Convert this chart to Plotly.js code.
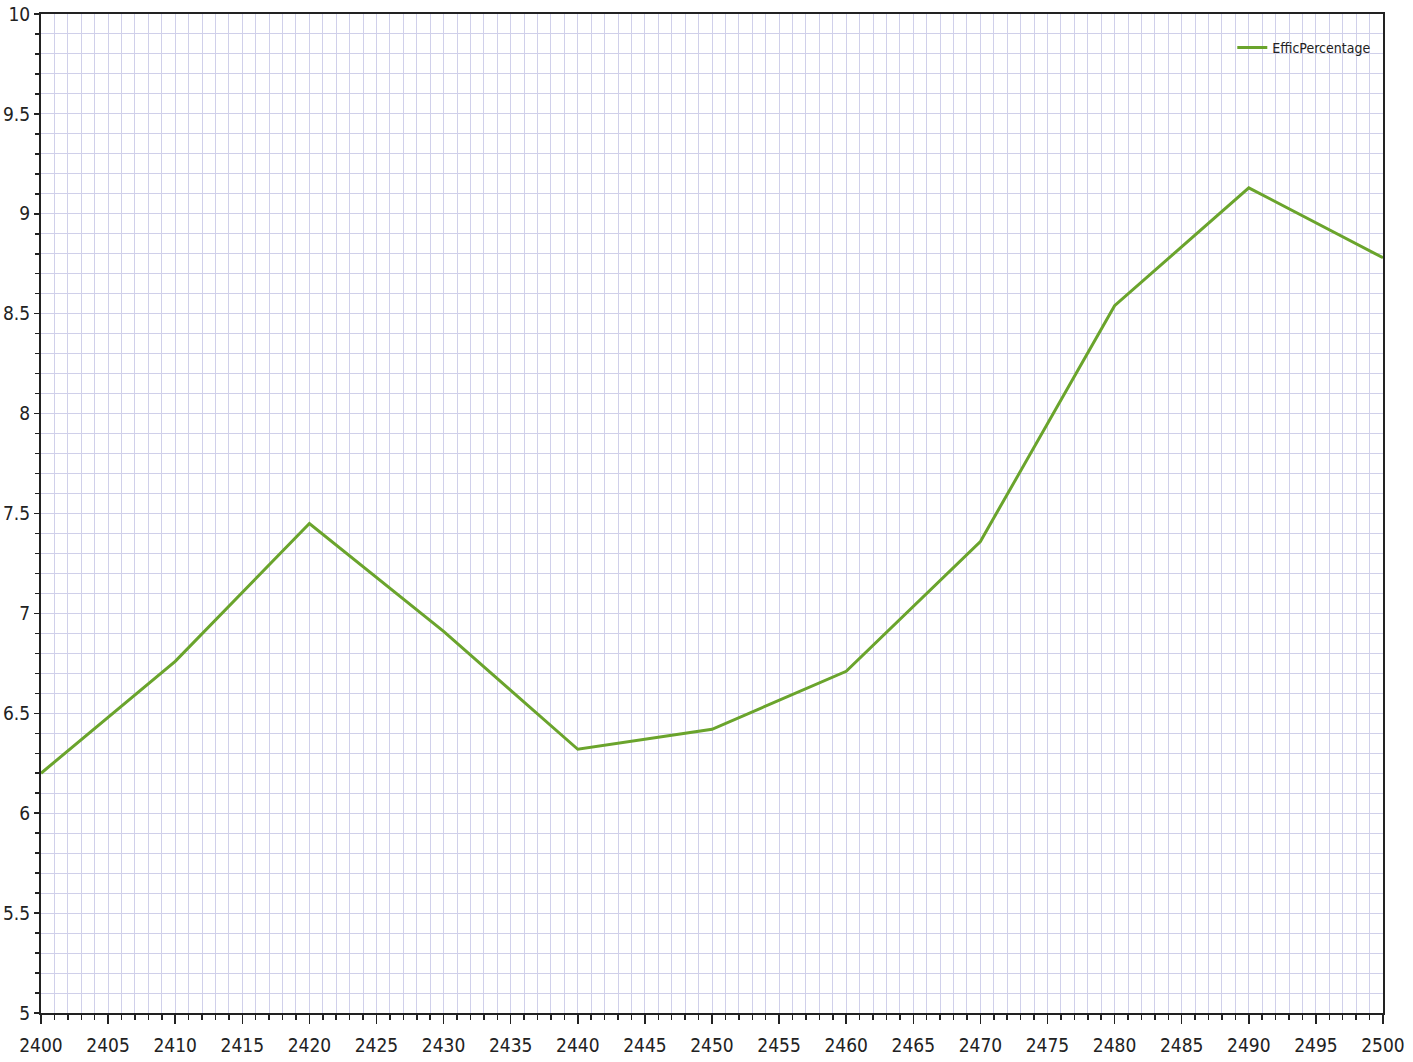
<!DOCTYPE html>
<html>
<head>
<meta charset="utf-8">
<script src="https://cdn.plot.ly/plotly-3.0.1.min.js"></script>
<style>html,body{margin:0;padding:0;background:#fff;}#chart{width:1413px;height:1062px;}</style>
</head>
<body>
<div id="chart"></div>
<script>
var xValues = [2400, 2410, 2420, 2430, 2440, 2450, 2460, 2470, 2480, 2490, 2500];
var efficPercentage = [6.20, 6.76, 7.45, 6.91, 6.32, 6.42, 6.71, 7.36, 8.54, 9.13, 8.78];
var seriesName = 'EfficPercentage';

var fontFam = '"DejaVu Sans Condensed", "Liberation Sans Narrow", sans-serif';
var gridColor = 'rgb(208,208,234)';

var trace = {
  x: xValues,
  y: efficPercentage,
  type: 'scatter',
  mode: 'lines',
  name: seriesName,
  line: {color: 'rgb(106,164,44)', width: 3}
};

var layout = {
  width: 1413,
  height: 1062,
  margin: {l: 41, r: 30, t: 14, b: 49},
  paper_bgcolor: '#fff',
  plot_bgcolor: '#fff',
  showlegend: true,
  legend: {
    x: 0.995, y: 0.982, xanchor: 'right', yanchor: 'top',
    bgcolor: 'rgba(0,0,0,0)',
    font: {family: fontFam, size: 14, color: '#222'},
    itemwidth: 30
  },
  xaxis: {
    range: [2400, 2500],
    dtick: 5,
    tick0: 2400,
    showgrid: true,
    gridcolor: gridColor,
    gridwidth: 1,
    zeroline: false,
    showline: true,
    linecolor: '#222',
    linewidth: 2,
    mirror: true,
    ticks: 'outside',
    ticklen: 9,
    tickwidth: 1.5,
    tickcolor: '#222',
    ticklabelstandoff: 5,
    tickfont: {family: fontFam, size: 19, color: '#222'},
    minor: {dtick: 1, showgrid: true, gridcolor: gridColor, gridwidth: 1, ticks: 'outside', ticklen: 5, tickwidth: 1.5, tickcolor: '#222'}
  },
  yaxis: {
    range: [5, 10],
    dtick: 0.5,
    tick0: 5,
    showgrid: true,
    gridcolor: gridColor,
    gridwidth: 1,
    zeroline: false,
    showline: true,
    linecolor: '#222',
    linewidth: 2,
    mirror: true,
    ticks: 'outside',
    ticklen: 5,
    tickwidth: 1.5,
    tickcolor: '#222',
    tickfont: {family: fontFam, size: 19, color: '#222'},
    minor: {dtick: 0.1, showgrid: true, gridcolor: gridColor, gridwidth: 1, ticks: 'outside', ticklen: 4, tickwidth: 1.5, tickcolor: '#222'}
  }
};

Plotly.newPlot('chart', [trace], layout, {displayModeBar: false, staticPlot: true});
</script>
</body>
</html>
